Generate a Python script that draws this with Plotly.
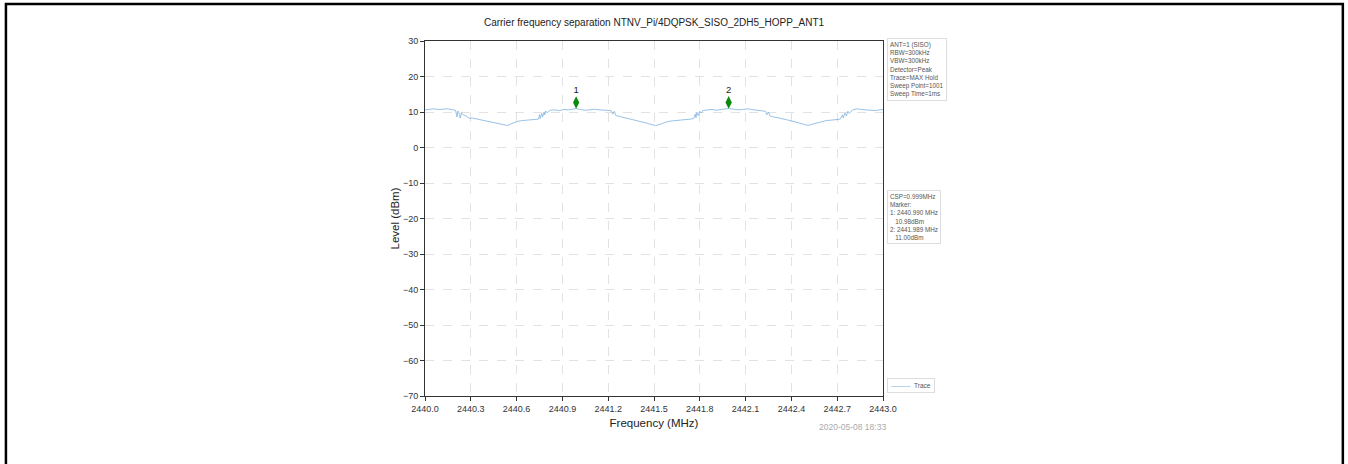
import plotly.graph_objects as go

# spectrum trace (MHz, dBm)
freq = [2440.00, 2440.03, 2440.06, 2440.09, 2440.12, 2440.15, 2440.18, 2440.20, 2440.21, 2440.215,
        2440.225, 2440.23, 2440.24, 2440.25, 2440.27, 2440.29, 2440.31, 2440.34, 2440.37, 2440.40,
        2440.43, 2440.46, 2440.49, 2440.52, 2440.54, 2440.56, 2440.58, 2440.61, 2440.64, 2440.67,
        2440.70, 2440.73, 2440.745, 2440.75, 2440.755, 2440.765, 2440.77, 2440.78, 2440.785, 2440.79,
        2440.80, 2440.82, 2440.85, 2440.88, 2440.91, 2440.94, 2440.97, 2440.99, 2441.02, 2441.05,
        2441.08, 2441.11, 2441.14, 2441.17, 2441.20, 2441.22, 2441.23, 2441.24, 2441.25, 2441.27,
        2441.30, 2441.33, 2441.36, 2441.39, 2441.42, 2441.45, 2441.48, 2441.51, 2441.53, 2441.56,
        2441.59, 2441.62, 2441.65, 2441.68, 2441.71, 2441.74, 2441.76, 2441.77, 2441.775, 2441.78,
        2441.79, 2441.80, 2441.81, 2441.82, 2441.85, 2441.88, 2441.91, 2441.94, 2441.97, 2441.989,
        2442.02, 2442.05, 2442.08, 2442.11, 2442.14, 2442.17, 2442.20, 2442.23, 2442.24, 2442.25,
        2442.26, 2442.28, 2442.31, 2442.34, 2442.37, 2442.40, 2442.43, 2442.46, 2442.49, 2442.51,
        2442.54, 2442.57, 2442.60, 2442.63, 2442.66, 2442.69, 2442.72, 2442.735, 2442.74, 2442.75,
        2442.76, 2442.77, 2442.78, 2442.80, 2442.83, 2442.86, 2442.89, 2442.92, 2442.95, 2442.98,
        2443.00]
level = [10.6, 10.8, 10.9, 10.7, 10.8, 10.9, 10.6, 10.5, 8.6, 10.3,
         9.5, 8.3, 9.8, 9.2, 8.9, 8.2, 8.3, 8.0, 7.8, 7.5,
         7.1, 6.8, 6.5, 6.3, 6.2, 6.6, 7.0, 7.4, 7.6, 7.7,
         7.7, 7.9, 8.0, 9.3, 8.2, 9.6, 8.6, 10.0, 9.2, 10.3,
         9.8, 10.5, 10.6, 10.4, 10.7, 10.6, 10.8, 10.98, 10.7, 10.5,
         10.6, 10.8, 10.6, 10.5, 10.6, 10.4, 9.4, 10.2, 9.0, 8.8,
         8.5, 8.1, 7.9, 7.7, 7.3, 6.9, 6.5, 6.2, 6.4, 6.9,
         7.3, 7.5, 7.6, 7.7, 7.9, 8.0, 8.2, 9.4, 8.4, 9.8,
         9.0, 10.2, 9.7, 10.4, 10.6, 10.7, 10.5, 10.8, 10.9, 11.00,
         10.8, 10.6, 10.7, 10.9, 10.7, 10.6, 10.4, 10.2, 9.2, 10.0,
         8.9, 8.6, 8.4, 8.0, 7.8, 7.5, 7.1, 6.7, 6.3, 6.2,
         6.6, 7.0, 7.4, 7.6, 7.7, 7.9, 8.0, 9.2, 8.3, 9.7,
         8.9, 10.2, 9.6, 10.6, 10.9, 10.7, 10.6, 10.5, 10.4, 10.6,
         10.7]

marker_names = ["1", "2"]
marker_freq = [2440.990, 2441.989]
marker_level = [10.98, 11.00]

settings = ["ANT=1 (SISO)", "RBW=300kHz", "VBW=300kHz", "Detector=Peak",
            "Trace=MAX Hold", "Sweep Point=1001", "Sweep Time=1ms"]
csp = "CSP=0.999MHz"
title = "Carrier frequency separation NTNV_Pi/4DQPSK_SISO_2DH5_HOPP_ANT1"
stamp = "2020-05-08 18:33"

FONT = "Liberation Sans, Arial, sans-serif"
TRACE_COLOR = "#7db3e0"

fig = go.Figure()
fig.add_trace(go.Scatter(x=freq, y=level, mode="lines", name="Trace",
                         line=dict(color=TRACE_COLOR, width=0.8), showlegend=False))
# markers are drawn a little above the measured point, as the analyser does
fig.add_trace(go.Scatter(x=marker_freq, y=[v + 1.7 for v in marker_level],
                         mode="markers+text", text=marker_names, textposition="top center",
                         textfont=dict(size=9.5, color="#222", family=FONT),
                         marker=dict(symbol="diamond-tall", size=9, color="#0a8a0a"),
                         showlegend=False, hoverinfo="skip"))

marker_lines = [csp, "Marker:"]
for n, f, v in zip(marker_names, marker_freq, marker_level):
    marker_lines.append(f"{n}: {f:.3f} MHz")
    marker_lines.append(f"   {v:.2f}dBm")

box = dict(xref="paper", yref="paper", x=1.008, xanchor="left", yanchor="top",
           showarrow=False, align="left", bgcolor="white", bordercolor="#dddddd",
           borderwidth=1, borderpad=2, font=dict(size=6.3, color="#555", family=FONT))
fig.add_annotation(text="<br>".join(settings), y=1.008, **box)
fig.add_annotation(text="<br>".join(marker_lines), y=0.58, **box)
# small legend box, drawn as text so it keeps the compact size of the original
fig.add_annotation(text=f"<span style='color:{TRACE_COLOR}'>\u2014\u2014\u2014</span>  Trace",
                   xref="paper", yref="paper", x=1.008, y=0.008,
                   xanchor="left", yanchor="bottom", showarrow=False, align="left",
                   bgcolor="white", bordercolor="#dddddd", borderwidth=1, borderpad=3,
                   font=dict(size=6.5, color="#555", family=FONT))
fig.add_annotation(text=stamp, xref="paper", yref="paper", x=1.01, y=-0.088,
                   xanchor="right", yanchor="middle", showarrow=False,
                   font=dict(size=8.5, color="#aaaaaa", family=FONT))

axis = dict(showline=True, mirror=True, linecolor="#333", linewidth=1,
            ticks="outside", ticklen=4, tickcolor="#333",
            showgrid=True, gridcolor="#e2e2e2", griddash="dash", gridwidth=1,
            zeroline=False, tickfont=dict(size=9, color="#333", family=FONT))

fig.update_layout(
    width=1348, height=464,
    margin=dict(l=425, r=465, t=41, b=68),
    paper_bgcolor="white", plot_bgcolor="white",
    title=dict(text=title, x=0.5, xref="paper", y=0.952, yanchor="middle",
               font=dict(size=10, color="#222", family=FONT)),
    xaxis=dict(range=[2440, 2443], tick0=2440, dtick=0.3, tickformat=".1f",
               title=dict(text="Frequency (MHz)", standoff=6,
                          font=dict(size=11.5, color="#222", family=FONT)), **axis),
    yaxis=dict(range=[-70, 30], dtick=10,
               title=dict(text="Level (dBm)", standoff=0,
                          font=dict(size=11.5, color="#222", family=FONT)), **axis),
    # outer page frame (open at the bottom, as in the original screenshot)
    shapes=[dict(type="path", xref="paper", yref="paper",
                 path="M -0.915,-0.3 L -0.915,1.104 L 2.004,1.104 L 2.004,-0.3",
                 line=dict(color="black", width=2.5))],
)

fig.write_html("out.html", config={"displayModeBar": False},
               post_script="document.body.style.margin='0px';")
